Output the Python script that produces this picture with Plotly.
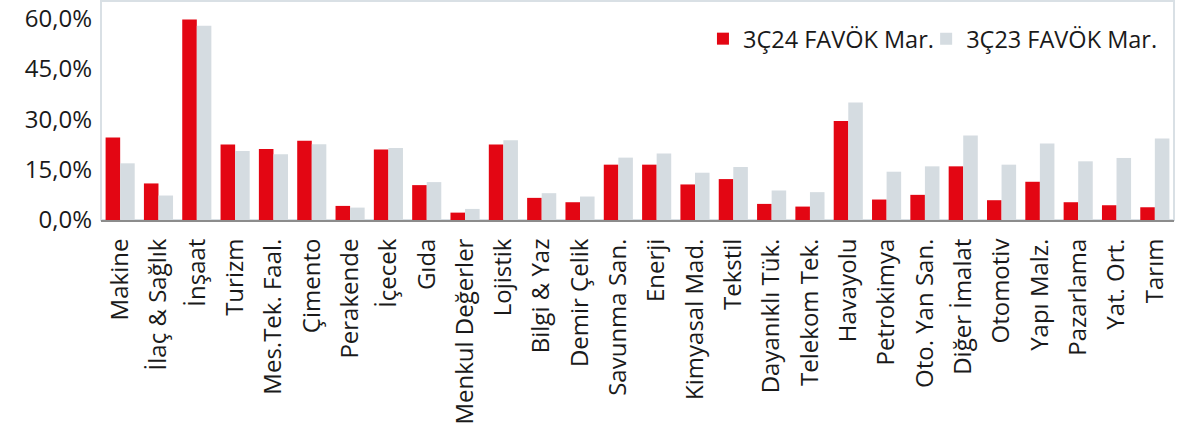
import plotly.graph_objects as go

categories = ["Makine", "İlaç & Sağlık", "İnşaat", "Turizm", "Mes.Tek. Faal.", "Çimento",
              "Perakende", "İçecek", "Gıda", "Menkul Değerler", "Lojistik", "Bilgi & Yaz",
              "Demir Çelik", "Savunma San.", "Enerji", "Kimyasal Mad.", "Tekstil",
              "Dayanıklı Tük.", "Telekom Tek.", "Havayolu", "Petrokimya", "Oto. Yan San.",
              "Diğer İmalat", "Otomotiv", "Yapı Malz.", "Pazarlama", "Yat. Ort.", "Tarım"]

margin_3q24 = [24.6, 10.9, 59.8, 22.5, 21.2, 23.6, 4.2, 21.0, 10.4, 2.2, 22.5, 6.6,
               5.3, 16.5, 16.5, 10.6, 12.2, 4.8, 4.0, 29.5, 6.1, 7.5,
               16.0, 5.9, 11.4, 5.3, 4.4, 3.8]

margin_3q23 = [16.9, 7.3, 57.9, 20.6, 19.6, 22.6, 3.7, 21.5, 11.3, 3.3, 23.8, 8.0,
               7.0, 18.6, 19.8, 14.1, 15.8, 8.8, 8.3, 35.0, 14.4, 16.0,
               25.2, 16.5, 22.8, 17.5, 18.5, 24.3]

series_names = ["3Ç24 FAVÖK Mar.", "3Ç23 FAVÖK Mar."]
tick_vals = [0, 15, 30, 45, 60]
tick_text = ["0,0%", "15,0%", "30,0%", "45,0%", "60,0%"]

RED = "#E30613"
GRAY = "#D5DCE1"
FONT = "Open Sans"
FS = 24
TXT = "#1A1A1A"

fig = go.Figure()
fig.add_trace(go.Bar(x=categories, y=margin_3q24, name=series_names[0], legend="legend",
                     marker=dict(color=RED, line=dict(width=0))))
fig.add_trace(go.Bar(x=categories, y=margin_3q23, name=series_names[1], legend="legend2",
                     marker=dict(color=GRAY, line=dict(width=0))))

legend_common = dict(orientation="h", xanchor="left", y=0.827, yanchor="middle",
                     bgcolor="rgba(0,0,0,0)", font=dict(family=FONT, size=23.5, color=TXT))

fig.update_layout(
    width=1195, height=427,
    margin=dict(l=101, r=21, t=1, b=207, pad=0),
    paper_bgcolor="white", plot_bgcolor="white",
    barmode="group", bargap=0.24, bargroupgap=0,
    font=dict(family=FONT, size=FS, color=TXT),
    showlegend=True,
    legend=dict(x=0.561, **legend_common),
    legend2=dict(x=0.769, **legend_common),
    xaxis=dict(type="category", tickangle=-90, showgrid=False, showline=True,
               linecolor="#8C8C8C", linewidth=2, ticks="", ticklabelstandoff=7,
               tickfont=dict(family=FONT, size=FS, color=TXT), fixedrange=True),
    yaxis=dict(range=[0, 65.3], tickvals=tick_vals, ticktext=tick_text, showgrid=False,
               showline=False, zeroline=False, ticks="", ticklabelstandoff=8,
               tickfont=dict(family=FONT, size=FS, color=TXT), fixedrange=True),
    shapes=[dict(type="rect", xref="paper", yref="paper", x0=0, x1=1, y0=0, y1=1,
                 line=dict(color="#D9E0E5", width=2), layer="below")],
)

fig.write_html("out.html", config={"displayModeBar": False},
               post_script="document.body.style.margin='0';")
